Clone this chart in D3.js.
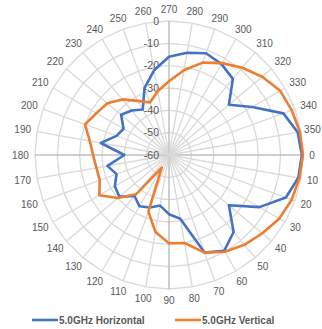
<!DOCTYPE html>
<html>
<head>
<meta charset="utf-8">
<script src="https://cdn.jsdelivr.net/npm/d3@7"></script>
<style>
  body { margin: 0; background: #fff; }
  text { font-family: "Liberation Sans", Arial, sans-serif; fill: #595959; }
</style>
</head>
<body>
<svg width="322" height="329"></svg>
<script>
// angle categories (degrees, clockwise from the right)
var angles = [0, 10, 20, 30, 40, 50, 60, 70, 80, 90, 100, 110, 120, 130, 140, 150, 160, 170,
              180, 190, 200, 210, 220, 230, 240, 250, 260, 270, 280, 290, 300, 310, 320, 330, 340, 350];

var horizontal = [-0.5, -1.2, -4.3, -13.3, -25, -15, -10.5, -13.5, -31, -33.5, -37, -35, -33.5, -36, -31, -32, -35, -32,
                  -40, -29, -35, -36.5, -32, -34, -36.5, -28, -21.5, -16, -13.5, -11.5, -13, -15.5, -25, -17, -5.5, -1.5];

var vertical = [0, -0.7, -1.5, -3, -5.5, -7.5, -10, -13.5, -20, -20.5, -25, -33, -53.5, -37, -30, -24, -27, -27,
                -26, -24, -20, -22.5, -24, -27.5, -32, -35, -31, -27, -21.5, -16, -12.5, -9, -5.5, -2.5, -1.5, -0.5];

var ringTicks = [0, -10, -20, -30, -40, -50, -60];
var seriesNames = ["5.0GHz Horizontal", "5.0GHz Vertical"];
var seriesColors = ["#4472C4", "#ED7D31"];

var svg = d3.select("svg"),
    width = +svg.attr("width"),
    cx = 169, cy = 155, R = 134;

var r = d3.scaleLinear().domain([-60, 0]).range([0, R]);
// lineRadial measures from 12 o'clock, so shift by 90 deg
var ang = d3.scaleLinear().domain([0, 360]).range([Math.PI / 2, Math.PI / 2 + 2 * Math.PI]);

var g = svg.append("g").attr("transform", "translate(" + cx + "," + cy + ")");

// rings (36-sided polygons like the excel radar grid)
var ringLine = d3.lineRadial()
    .angle(function(d) { return ang(d); })
    .curve(d3.curveLinearClosed);

g.append("g").selectAll("path")
    .data(ringTicks.filter(function(t) { return t > -60; }))
    .enter().append("path")
      .attr("d", function(t) { return ringLine.radius(r(t))(angles); })
      .attr("fill", "none")
      .attr("stroke", "#d9d9d9")
      .attr("stroke-width", 1.3);

// spokes
g.append("g").selectAll("line")
    .data(angles)
    .enter().append("line")
      .attr("x2", function(d) { return r(0) * Math.cos(d * Math.PI / 180); })
      .attr("y2", function(d) { return r(0) * Math.sin(d * Math.PI / 180); })
      .attr("stroke", function(d) { return d % 90 === 0 ? "#bfbfbf" : "#d9d9d9"; })
      .attr("stroke-width", function(d) { return d % 90 === 0 ? 1.5 : 1.3; });

// angle labels around the outside
var lab = g.append("g").selectAll("text")
    .data(angles)
    .enter().append("text")
      .attr("font-size", 10)
      .attr("text-anchor", "middle")
      .attr("dy", "0.35em")
      .text(function(d) { return d; });

lab.each(function(d) {
    var t = d * Math.PI / 180,
        bb = this.getBBox(),
        rr = R + 6;
    var x = rr * Math.cos(t) + Math.cos(t) * bb.width / 2,
        y = rr * Math.sin(t) + Math.sin(t) * bb.height / 2;
    // keep it inside the window on the right
    x = Math.min(x, width - 1 - cx - bb.width / 2);
    d3.select(this).attr("x", x).attr("y", y);
});

// value axis labels up the 270 spoke
g.append("g").selectAll("text")
    .data(ringTicks)
    .enter().append("text")
      .attr("font-size", 10.5)
      .attr("text-anchor", "end")
      .attr("x", -10)
      .attr("y", function(d) { return -r(d); })
      .attr("dy", "0.35em")
      .text(function(d) { return d; });

// series
var seriesLine = d3.lineRadial()
    .angle(function(d, i) { return ang(angles[i]); })
    .radius(function(d) { return r(d); })
    .curve(d3.curveLinearClosed);

g.append("g").selectAll("path")
    .data([horizontal, vertical])
    .enter().append("path")
      .attr("d", seriesLine)
      .attr("fill", "none")
      .attr("stroke", function(d, i) { return seriesColors[i]; })
      .attr("stroke-width", 2.6)
      .attr("stroke-linejoin", "round");

// legend
var legend = svg.append("g").attr("transform", "translate(0,320)");
var lx = [32, 175];
seriesNames.forEach(function(name, i) {
    legend.append("line")
        .attr("x1", lx[i]).attr("x2", lx[i] + 26)
        .attr("stroke", seriesColors[i])
        .attr("stroke-width", 2.6);
    legend.append("text")
        .attr("x", lx[i] + 27)
        .attr("dy", "0.35em")
        .attr("font-size", 10)
        .attr("font-weight", "bold")
        .text(name);
});
</script>
</body>
</html>
